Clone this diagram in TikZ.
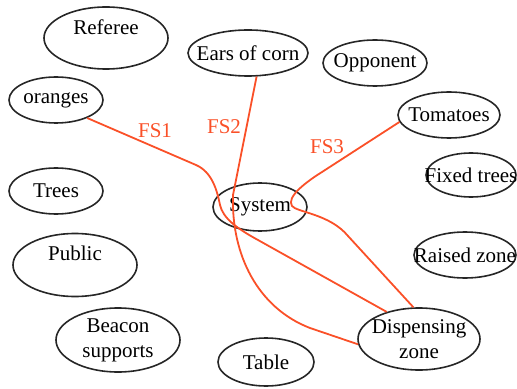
\documentclass[tikz,border=0pt]{standalone}
\usepackage{fontspec}
\setmainfont{Liberation Serif}
\usetikzlibrary{shapes,shapes.geometric,positioning}
\definecolor{fsred}{RGB}{250,80,40}

\begin{document}
\begin{tikzpicture}[x=0.5pt,y=-0.5pt]
    \tikzset{
        thing/.style 2 args = {ellipse, draw=black!85, line width=0.8pt, inner sep=0pt, minimum width=#1, minimum height=#2, align=center, font=\fontsize{10.5}{12.5}\selectfont},
        flow/.style = {draw=fsred, line width=0.9pt},
        fslabel/.style = {text=fsred, font=\fontsize{10.5}{12.5}\selectfont}
    }
    \useasboundingbox (0,0) rectangle (517,389);

    \node[thing={62pt}{31pt}, text depth=11pt](referee) at (106,38){\makebox[0pt]{Referee}};
    \node[thing={60pt}{23pt}](corn) at (248,53){\makebox[0pt]{Ears of corn}};
    \node[thing={52pt}{23pt}](opponent) at (375,63){\makebox[0pt]{Opponent}};
    \node[thing={47pt}{23pt}](oranges) at (56,100){\makebox[0pt]{oranges}};
    \node[thing={51pt}{23pt}](tomatoes) at (449,115){\makebox[0pt]{Tomatoes}};
    \node[thing={47pt}{23pt}](trees) at (56,191){\makebox[0pt]{Trees}};
    \node[thing={45pt}{22pt}](fixed) at (471,175){\makebox[0pt]{Fixed trees}};
    \node[thing={47pt}{24pt}](system) at (260,207){\makebox[0pt]{System}};
    \node[thing={62pt}{31.5pt}, text depth=12pt](public) at (75,265){\makebox[0pt]{Public}};
    \node[thing={51pt}{23pt}](raised) at (465,255){\makebox[0pt]{Raised zone}};
    \node[thing={62pt}{32pt}](beacon) at (118,340){Beacon\\supports};
    \node[thing={61pt}{31pt}](disp) at (419,339){\makebox[0pt]{Dispensing}\\zone};
    \node[thing={48pt}{24pt}](table) at (266,362){\makebox[0pt]{Table}};

    \node[fslabel](fs1) at (155,131){FS1};
    \node[fslabel](fs2) at (224,127){FS2};
    \node[fslabel](fs3) at (327,147){FS3};

    \path [flow] (oranges.-30) -- (196,165) .. controls (212,172) and (217,190) .. (220,205)
        .. controls (223,218) and (236,228) .. (258,240) -- (disp.140);
    \path [flow] (corn.-70) -- (233,195) .. controls (231,255) and (258,308) .. (310,328) -- (disp.185);
    \path [flow] (tomatoes.188) -- (322,172) .. controls (306,182) and (286,197) .. (292,206)
        .. controls (296,212) and (330,214) .. (348,236) -- (disp.100);

\end{tikzpicture}
\end{document}
